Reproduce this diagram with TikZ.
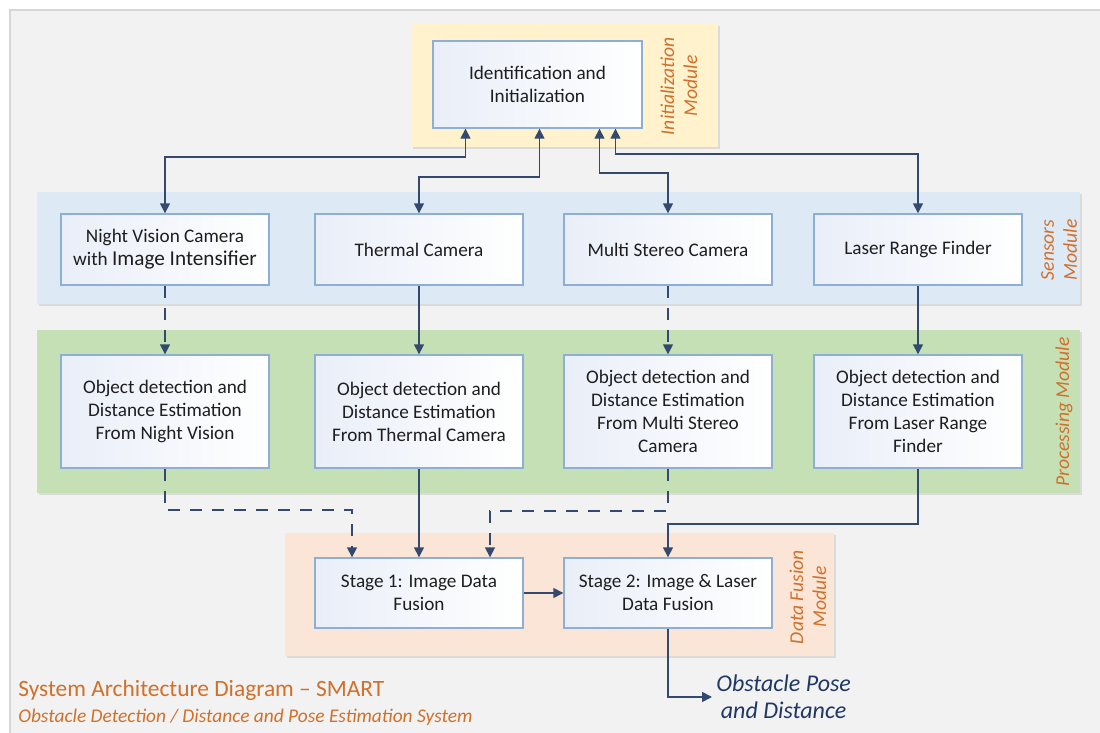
\documentclass[tikz,border=0pt]{standalone}
\usepackage{fontspec}
\setmainfont{Carlito}
\usetikzlibrary{arrows.meta,shadows}

\definecolor{framefill}{HTML}{F2F2F2}
\definecolor{frameline}{HTML}{D6D6D6}
\definecolor{initfill}{HTML}{FFF2CC}
\definecolor{sensfill}{HTML}{DDEAF6}
\definecolor{procfill}{HTML}{C5E0B4}
\definecolor{fusfill}{HTML}{FBE5D6}
\definecolor{boxline}{HTML}{8DAFD6}
\definecolor{boxtint}{HTML}{E9EEF8}
\definecolor{boxtext}{HTML}{1E1E1E}
\definecolor{linkblue}{HTML}{34496E}
\definecolor{modorange}{HTML}{D0702A}
\definecolor{outblue}{HTML}{1F3864}

\begin{document}
\begin{tikzpicture}[x=0.5pt, y=-0.5pt,
    box/.style={draw=boxline, line width=0.7pt, left color=boxtint, right color=white,
        text=boxtext, align=center, minimum width=104pt, inner sep=2pt,
        font=\fontsize{9.6}{11.5}\selectfont},
    link/.style={draw=linkblue, line width=0.8pt, -{Triangle[length=5pt,width=5pt]}},
    twoway/.style={link, {Triangle[length=5pt,width=5pt]}-{Triangle[length=5pt,width=5pt]}},
    dashlink/.style={link, dash pattern=on 6pt off 5pt},
    zone/.style={fill=#1, drop shadow={shadow xshift=1pt, shadow yshift=-1pt, opacity=0.2}},
    modlabel/.style={text=modorange, rotate=90, align=center, inner sep=0pt,
        font=\itshape\fontsize{9.8}{11.5}\selectfont}
]

    \useasboundingbox (0,0) rectangle (1100,733);

    % Frame and module zones
    \filldraw[fill=framefill, draw=frameline, line width=1pt] (10,10) rectangle (1104,740);
    \fill[zone=initfill] (411,24) rectangle (718,147);
    \fill[zone=sensfill] (37,192) rectangle (1080,304);
    \fill[zone=procfill] (37,330) rectangle (1080,493);
    \fill[zone=fusfill] (285,533) rectangle (834,656);

    % Initialization
    \node[box, minimum width=104.5pt, minimum height=43.5pt] (init) at (537.5,84.5) {Identification and\\Initialization};

    % Sensors
    \node[box, minimum height=35.5pt] (nv) at (165,249.5) {Night Vision Camera\\with {\fontsize{10.6}{11.5}\selectfont Image Intensifier}};
    \node[box, minimum height=35.5pt] (th) at (419,249.5) {Thermal Camera};
    \node[box, minimum height=35.5pt] (ms) at (668,249.5) {Multi Stereo Camera};
    \node[box, minimum height=35.5pt] (lrf) at (918,249.5) {Laser Range Finder};

    % Processing
    \node[box, minimum height=56.5pt] (pnv) at (165,411.5) {Object detection and\\Distance Estimation\\From Night Vision};
    \node[box, minimum height=56.5pt] (pth) at (419,411.5) {Object detection and\\Distance Estimation\\From Thermal Camera};
    \node[box, minimum height=56.5pt] (pms) at (668,411.5) {Object detection and\\Distance Estimation\\From Multi Stereo\\Camera};
    \node[box, minimum height=56.5pt] (plrf) at (918,411.5) {Object detection and\\Distance Estimation\\From Laser Range\\Finder};

    % Data fusion
    \node[box, minimum height=35pt] (s1) at (419,593) {Stage 1: Image Data\\Fusion};
    \node[box, minimum height=35pt] (s2) at (668,593) {Stage 2: Image \& Laser\\Data Fusion};

    % Module labels
    \node[modlabel] (initlbl) at (679,86) {Initialization\\Module};
    \node[modlabel] (senlbl) at (1059,250) {Sensors\\Module};
    \node[modlabel] (proclbl) at (1064,412) {Processing Module};
    \node[modlabel] (fuslbl) at (808,597) {Data Fusion\\Module};

    % Output and titles
    \node[anchor=west, text=outblue, align=center, inner sep=2pt,
        font=\itshape\fontsize{12}{13.5}\selectfont] (out) at (712,697) {Obstacle Pose\\and Distance};
    \node[anchor=west, text=modorange, inner sep=0pt, font=\fontsize{11.7}{13}\selectfont] (title) at (18,690) {System Architecture Diagram – SMART};
    \node[anchor=west, text=modorange, inner sep=0pt, font=\itshape\fontsize{9.7}{10}\selectfont] (subtitle) at (18,717) {Obstacle Detection / Distance and Pose Estimation System};

    % Sensors <-> initialization
    \draw[twoway] (nv.north) -- ++(0,-56) -| ([xshift=-36pt]init.south);
    \draw[twoway] (th.north) -- ++(0,-36) -| ([xshift=1pt]init.south);
    \draw[twoway] (ms.north) -- ++(0,-40) -| ([xshift=31pt]init.south);
    \draw[twoway] (lrf.north) -- ++(0,-59) -| ([xshift=39pt]init.south);

    % Sensors -> processing
    \draw[dashlink] (nv) -- (pnv);
    \draw[link] (th) -- (pth);
    \draw[dashlink] (ms) -- (pms);
    \draw[link] (lrf) -- (plrf);

    % Processing -> fusion
    \draw[dashlink] (pnv.south) -- ++(0,41) -| ([xshift=-33.5pt]s1.north);
    \draw[link] (pth) -- (s1);
    \draw[dashlink] (pms.south) -- ++(0,42) -| ([xshift=35.5pt]s1.north);
    \draw[link] (plrf.south) -- ++(0,55) -| (s2.north);
    \draw[link] (s1) -- (s2);
    \draw[link] (s2.south) |- (out.west);
\end{tikzpicture}
\end{document}
